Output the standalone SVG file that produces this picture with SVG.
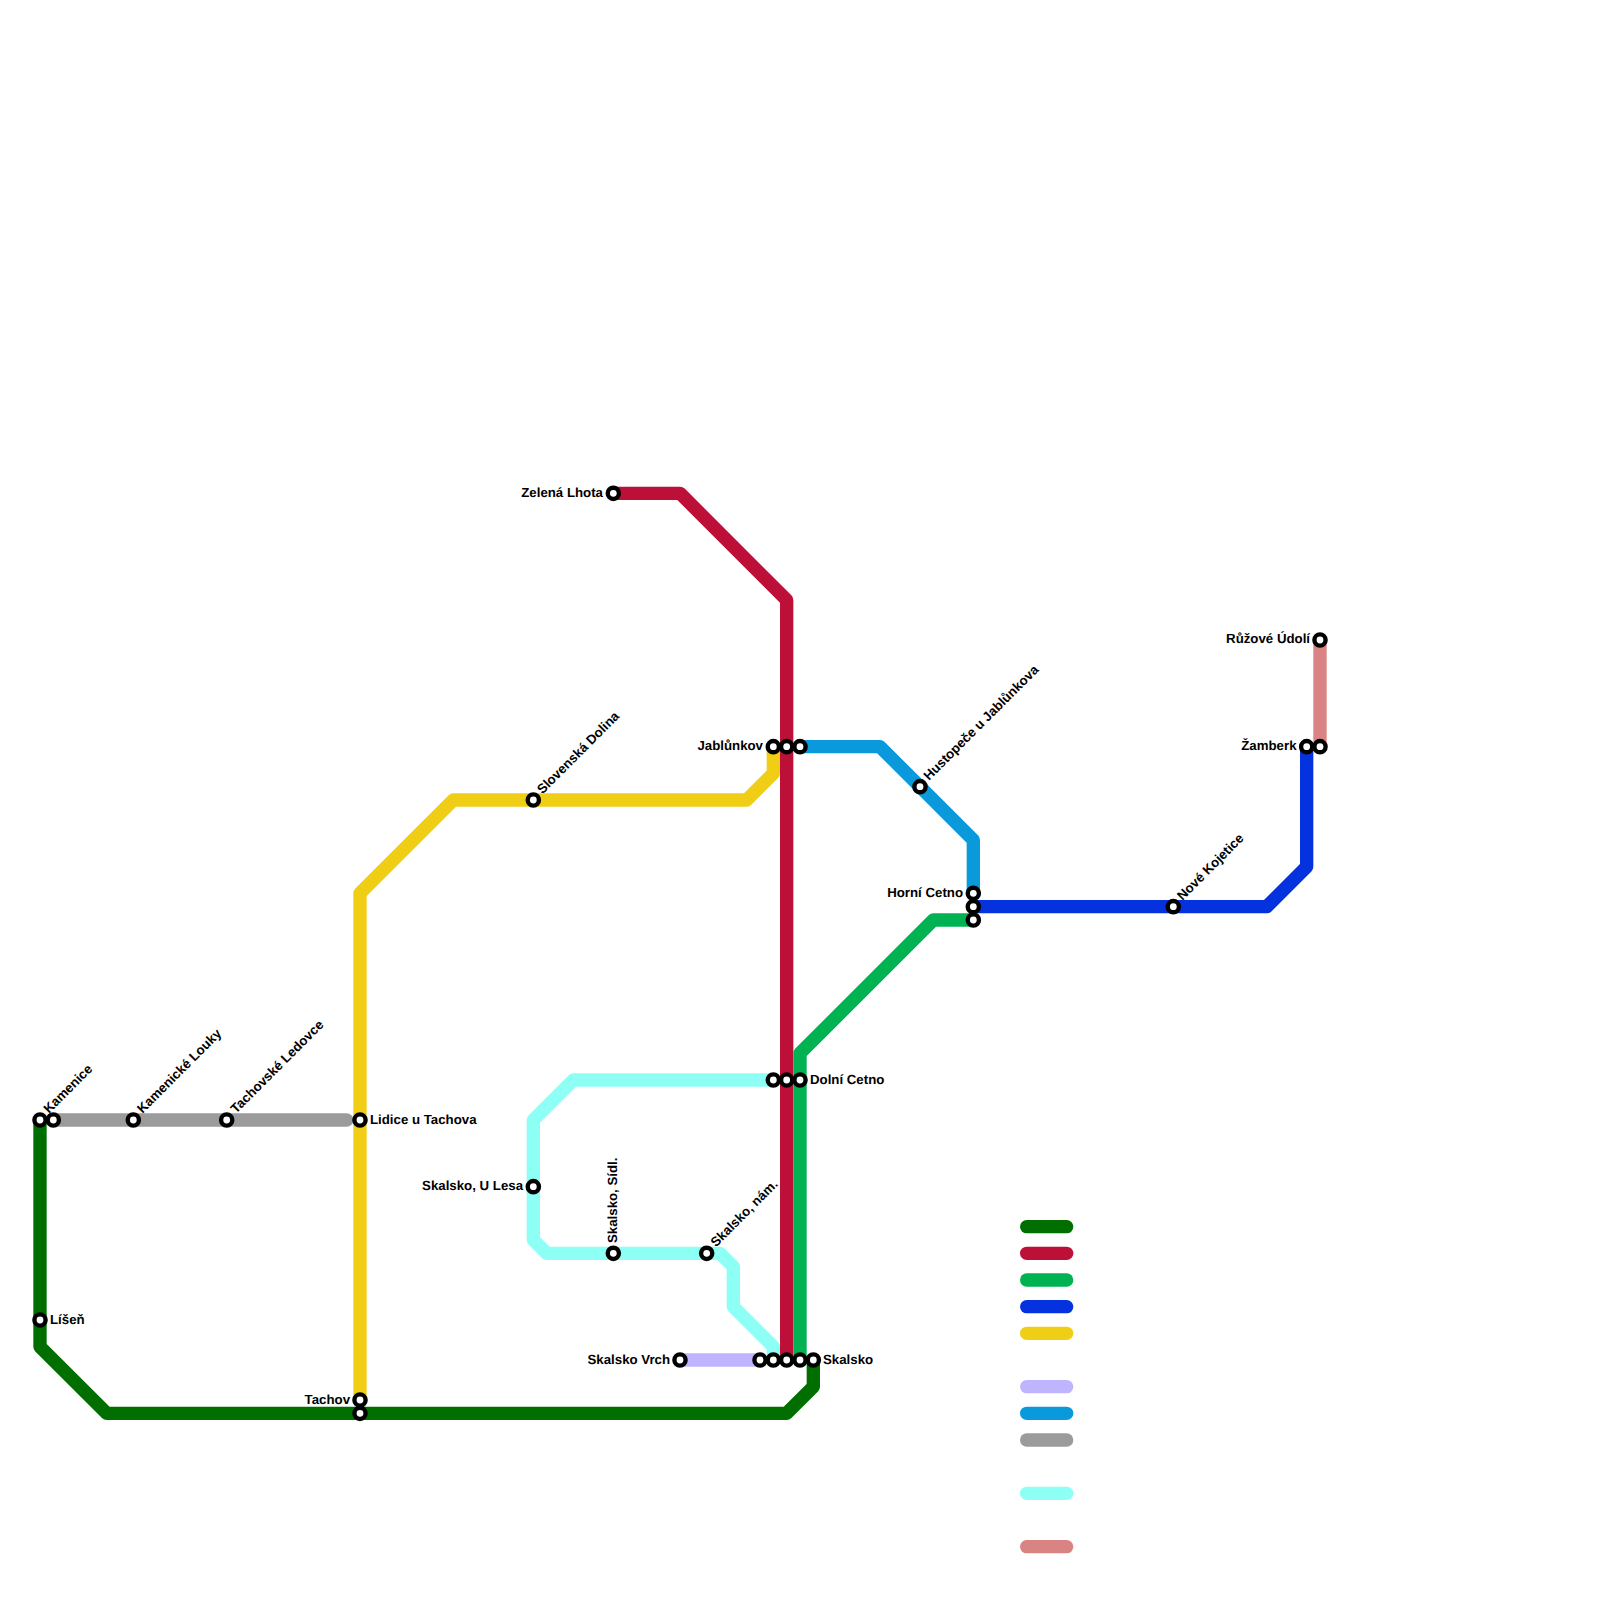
<svg xmlns="http://www.w3.org/2000/svg" width="1600" height="1600" viewBox="0 0 1600 1600">
<style>
.l{fill:none;stroke-width:13.33;stroke-linejoin:round;stroke-linecap:butt}
.k{fill:none;stroke-width:13.33;stroke-linecap:round}
.s{fill:#fff;stroke:#000;stroke-width:4.4}
text{font-family:"Liberation Sans",Arial,sans-serif;font-size:13.25px;font-weight:700;fill:#000;text-rendering:geometricPrecision}
.e{text-anchor:end}
</style>
<rect width="1600" height="1600" fill="#fff"/>
<g id="connectors">
<path class="k" stroke="#9b9b9b" d="M53.33 1120H346.67"/>
<path class="l" stroke="#f0ce15" d="M360 1400V893.33L453.33 800H746.67L773.33 773.33V746.67"/>
<path class="l" stroke="#006f00" d="M40 1120V1346.67L106.67 1413.33H786.67L813.33 1386.67V1360"/>
<path class="l" stroke="#8dfff4" d="M773.33 1080H573.33L533.33 1120V1240L546.67 1253.33H720L733.33 1266.67V1306.67L773.33 1346.67V1360"/>
<path class="l" stroke="#bfb5ff" d="M680 1360H760"/>
<path class="l" stroke="#bd1038" d="M613.33 493.33H680L786.67 600V1360"/>
<path class="l" stroke="#00b251" d="M800 1360V1053.33L933.33 920H973.33"/>
<path class="l" stroke="#0a9adb" d="M800 746.67H880L973.33 840V893.33"/>
<path class="l" stroke="#0432de" d="M973.33 906.67H1266.67L1306.67 866.67V746.67"/>
<path class="l" stroke="#d98383" d="M1320 640V746.67"/>
</g>
<g id="legend">
<path class="k" stroke="#006f00" d="M1026.67 1226.67H1066.67"/>
<path class="k" stroke="#bd1038" d="M1026.67 1253.33H1066.67"/>
<path class="k" stroke="#00b251" d="M1026.67 1280H1066.67"/>
<path class="k" stroke="#0432de" d="M1026.67 1306.67H1066.67"/>
<path class="k" stroke="#f0ce15" d="M1026.67 1333.33H1066.67"/>
<path class="k" stroke="#bfb5ff" d="M1026.67 1386.67H1066.67"/>
<path class="k" stroke="#0a9adb" d="M1026.67 1413.33H1066.67"/>
<path class="k" stroke="#9b9b9b" d="M1026.67 1440H1066.67"/>
<path class="k" stroke="#8dfff4" d="M1026.67 1493.33H1066.67"/>
<path class="k" stroke="#d98383" d="M1026.67 1546.67H1066.67"/>
</g>
<g id="n-kamenice"><circle class="s" cx="40" cy="1120" r="5.6"/><text transform="translate(49 1114) rotate(-45)">Kamenice</text></g>
<g id="n-gray-start"><circle class="s" cx="53.33" cy="1120" r="5.6"/></g>
<g id="n-kamenicke-louky"><circle class="s" cx="133.33" cy="1120" r="5.6"/><text transform="translate(142.5 1114) rotate(-45)">Kamenické Louky</text></g>
<g id="n-tachovske-ledovce"><circle class="s" cx="226.67" cy="1120" r="5.6"/><text transform="translate(236 1114) rotate(-45)">Tachovské Ledovce</text></g>
<g id="n-lidice"><circle class="s" cx="360" cy="1120" r="5.6"/><text x="370" y="1123.5">Lidice u Tachova</text></g>
<g id="n-lisen"><circle class="s" cx="40" cy="1320" r="5.6"/><text x="50" y="1323.5">Líšeň</text></g>
<g id="n-tachov"><circle class="s" cx="360" cy="1400" r="5.6"/><text class="e" x="350" y="1403.5">Tachov</text></g>
<g id="n-tachov-2"><circle class="s" cx="360" cy="1413.33" r="5.6"/></g>
<g id="n-u-lesa"><circle class="s" cx="533.33" cy="1186.67" r="5.6"/><text class="e" x="523" y="1190">Skalsko, U Lesa</text></g>
<g id="n-sidl"><circle class="s" cx="613.33" cy="1253.33" r="5.6"/><text transform="translate(617 1243) rotate(-90)">Skalsko, Sídl.</text></g>
<g id="n-nam"><circle class="s" cx="706.67" cy="1253.33" r="5.6"/><text transform="translate(716 1247.5) rotate(-45)">Skalsko, nám.</text></g>
<g id="n-vrch"><circle class="s" cx="680" cy="1360" r="5.6"/><text class="e" x="670" y="1363.5">Skalsko Vrch</text></g>
<g id="n-sk1"><circle class="s" cx="760" cy="1360" r="5.6"/></g>
<g id="n-sk2"><circle class="s" cx="773.33" cy="1360" r="5.6"/></g>
<g id="n-sk3"><circle class="s" cx="786.67" cy="1360" r="5.6"/></g>
<g id="n-sk4"><circle class="s" cx="800" cy="1360" r="5.6"/></g>
<g id="n-skalsko"><circle class="s" cx="813.33" cy="1360" r="5.6"/><text x="823" y="1363.5">Skalsko</text></g>
<g id="n-dc1"><circle class="s" cx="773.33" cy="1080" r="5.6"/></g>
<g id="n-dc2"><circle class="s" cx="786.67" cy="1080" r="5.6"/></g>
<g id="n-dolni-cetno"><circle class="s" cx="800" cy="1080" r="5.6"/><text x="810" y="1083.5">Dolní Cetno</text></g>
<g id="n-jablunkov"><circle class="s" cx="773.33" cy="746.67" r="5.6"/><text class="e" x="763" y="750">Jablůnkov</text></g>
<g id="n-ja2"><circle class="s" cx="786.67" cy="746.67" r="5.6"/></g>
<g id="n-ja3"><circle class="s" cx="800" cy="746.67" r="5.6"/></g>
<g id="n-slovenska"><circle class="s" cx="533.33" cy="800" r="5.6"/><text transform="translate(542.5 794.5) rotate(-45)">Slovenská Dolina</text></g>
<g id="n-hustopece"><circle class="s" cx="920" cy="786.67" r="5.6"/><text transform="translate(929 781) rotate(-45)">Hustopeče u Jablůnkova</text></g>
<g id="n-horni-cetno"><circle class="s" cx="973.33" cy="893.33" r="5.6"/><text class="e" x="963" y="896.5">Horní Cetno</text></g>
<g id="n-hc2"><circle class="s" cx="973.33" cy="906.67" r="5.6"/></g>
<g id="n-hc3"><circle class="s" cx="973.33" cy="920" r="5.6"/></g>
<g id="n-nove-kojetice"><circle class="s" cx="1173.33" cy="906.67" r="5.6"/><text transform="translate(1182.5 901) rotate(-45)">Nové Kojetice</text></g>
<g id="n-zamberk"><circle class="s" cx="1306.67" cy="746.67" r="5.6"/><text class="e" x="1296.5" y="750">Žamberk</text></g>
<g id="n-za2"><circle class="s" cx="1320" cy="746.67" r="5.6"/></g>
<g id="n-ruzove"><circle class="s" cx="1320" cy="640" r="5.6"/><text class="e" x="1310" y="643">Růžové Údolí</text></g>
<g id="n-zelena-lhota"><circle class="s" cx="613.33" cy="493.33" r="5.6"/><text class="e" x="603" y="496.5">Zelená Lhota</text></g>
</svg>
